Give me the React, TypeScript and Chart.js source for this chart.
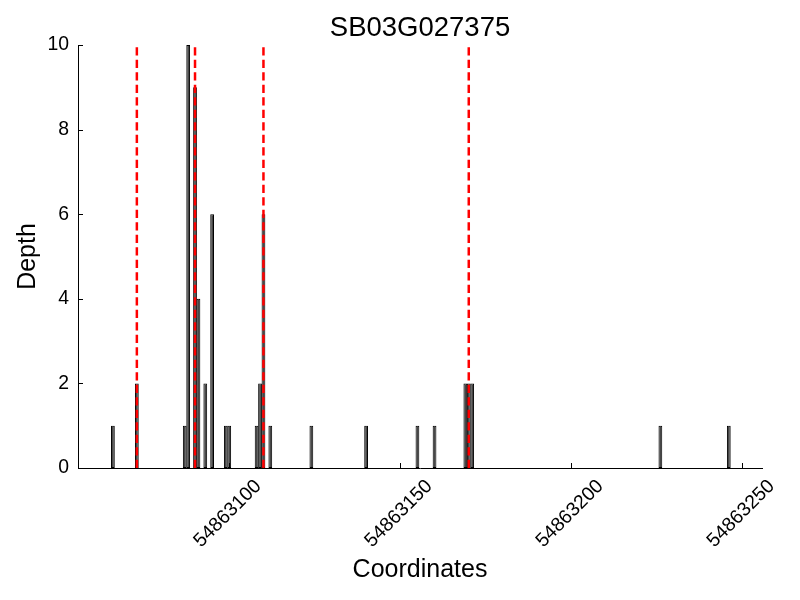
import React, { useEffect, useRef } from "react";
import { Chart, registerables } from "chart.js";

Chart.register(...registerables);

const TITLE = "SB03G027375";
const X_LABEL = "Coordinates";
const Y_LABEL = "Depth";

const positions = [
  54863066, 54863073, 54863087, 54863088, 54863090, 54863091, 54863093, 54863095,
  54863099, 54863100, 54863108, 54863109, 54863110, 54863112, 54863124, 54863140,
  54863155, 54863160, 54863169, 54863170, 54863171, 54863226, 54863246,
];
const depths = [1, 2, 1, 10, 9, 4, 2, 6, 1, 1, 1, 2, 6, 1, 1, 1, 1, 1, 2, 2, 2, 1, 1];
const markers = [54863073, 54863090, 54863110, 54863170];
const xTicks = [54863100, 54863150, 54863200, 54863250];
const yTicks = [0, 2, 4, 6, 8, 10];
const X_MIN = 54863055.8;
const X_MAX = 54863255.7;
const Y_MIN = 0;
const Y_MAX = 10;

const inwardTicks = {
  id: "inwardTicks",
  afterDatasetsDraw(chart: any) {
    const { ctx, chartArea, scales } = chart;
    ctx.save();
    ctx.strokeStyle = "#000";
    ctx.lineWidth = 1;
    ctx.beginPath();
    yTicks.forEach((v) => {
      const y = Math.round(scales.y.getPixelForValue(v)) + 0.5;
      ctx.moveTo(chartArea.left, y);
      ctx.lineTo(chartArea.left + 5, y);
    });
    xTicks.forEach((v) => {
      const x = Math.round(scales.x.getPixelForValue(v)) + 0.5;
      ctx.moveTo(x, chartArea.bottom);
      ctx.lineTo(x, chartArea.bottom - 5);
    });
    ctx.stroke();
    ctx.restore();
  },
};

export default function App() {
  const ref = useRef<HTMLCanvasElement>(null);

  useEffect(() => {
    document.body.style.margin = "0";
    Chart.defaults.font.family = "'Liberation Sans', Arial, sans-serif";
    Chart.defaults.color = "#000";

    const datasets: any[] = [
      {
        type: "bar",
        data: positions.map((x, i) => ({ x, y: depths[i] })),
        backgroundColor: "#474747",
        borderColor: "#000000",
        borderWidth: 1,
        borderSkipped: false,
        barPercentage: 1,
        categoryPercentage: 1.1,
        order: 2,
      },
      ...markers.map((m) => ({
        type: "line",
        data: [
          { x: m, y: Y_MIN },
          { x: m, y: Y_MAX },
        ],
        borderColor: "#ff0000",
        borderWidth: 2.5,
        borderDash: [8.3, 4.2],
        pointRadius: 0,
        fill: false,
        order: 1,
      })),
    ];

    const chart = new Chart(ref.current as HTMLCanvasElement, {
      type: "bar",
      data: { datasets },
      options: {
        animation: false,
        responsive: false,
        devicePixelRatio: 1,
        layout: { padding: { left: 0, right: 38, top: 0, bottom: 0 } },
        plugins: {
          legend: { display: false },
          tooltip: { enabled: false },
          title: {
            display: true,
            text: TITLE,
            fullSize: false,
            color: "#000",
            font: { size: 27.5, weight: "normal" },
            padding: { top: 12, bottom: 0 },
          },
        },
        scales: {
          x: {
            type: "linear",
            min: X_MIN,
            max: X_MAX,
            offset: false,
            grid: { display: false, drawTicks: false },
            border: { display: true, color: "#000", width: 1 },
            afterBuildTicks: (s: any) => {
              s.ticks = xTicks.map((v) => ({ value: v }));
            },
            afterFit: (s: any) => {
              s.height = 132;
            },
            ticks: {
              autoSkip: false,
              minRotation: 45,
              maxRotation: 45,
              labelOffset: 29,
              padding: 7,
              color: "#000",
              font: { size: 19.4 },
              callback: (v: any) => String(v),
            },
            title: {
              display: true,
              text: X_LABEL,
              color: "#000",
              font: { size: 25 },
              padding: { top: 0, bottom: 15 },
            },
          },
          y: {
            type: "linear",
            min: Y_MIN,
            max: Y_MAX,
            grid: { display: false, drawTicks: false },
            border: { display: true, color: "#000", width: 1 },
            afterBuildTicks: (s: any) => {
              s.ticks = yTicks.map((v) => ({ value: v }));
            },
            afterFit: (s: any) => {
              s.width = 78;
            },
            ticks: {
              padding: 9,
              color: "#000",
              font: { size: 19.4 },
            },
            title: {
              display: true,
              text: Y_LABEL,
              color: "#000",
              font: { size: 25 },
              padding: { top: 13, bottom: 0 },
            },
          },
        },
      } as any,
      plugins: [inwardTicks],
    });
    return () => chart.destroy();
  }, []);

  return (
    <div style={{ width: 800, height: 600 }}>
      <canvas ref={ref} width={800} height={600} style={{ display: "block" }} />
    </div>
  );
}
